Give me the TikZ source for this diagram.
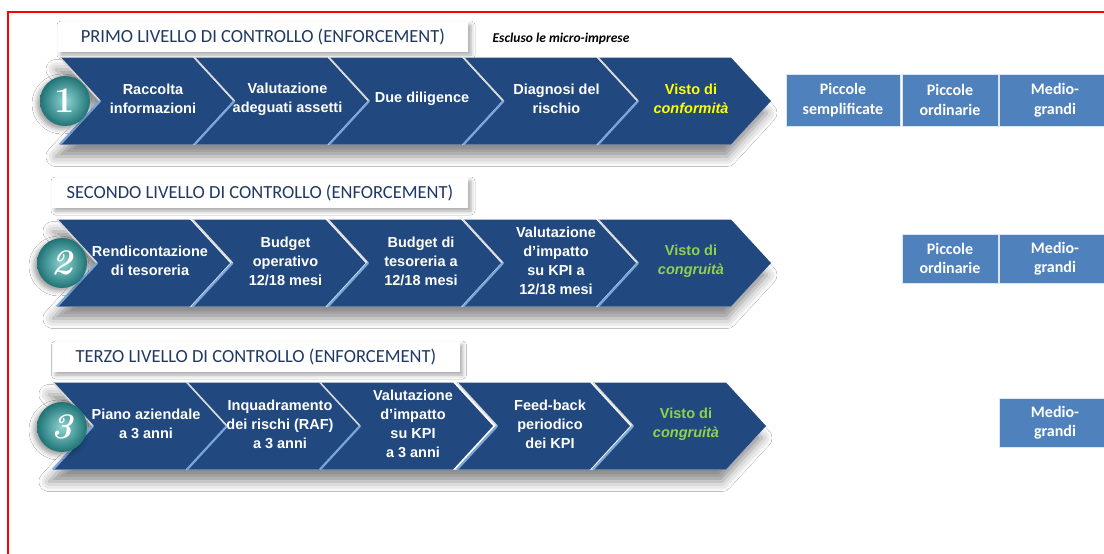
\documentclass[tikz,border=0pt]{standalone}
\usepackage{fontspec}
\usetikzlibrary{shadows.blur}
\newfontfamily\arialf{Liberation Sans}
\newfontfamily\calib{Carlito}
\definecolor{chevblue}{HTML}{21497F}
\definecolor{boxblue}{HTML}{4F81BD}
\definecolor{titlecol}{HTML}{1F3864}
\definecolor{vistoyel}{HTML}{FFFF00}
\definecolor{vistogrn}{HTML}{92D050}
\definecolor{bevelblue}{HTML}{7AA6DA}
\definecolor{tealin}{HTML}{8FD6D3}
\definecolor{tealout}{HTML}{1F7376}
\tikzset{
  chevfill/.style={fill=chevblue},
  chevedge/.style={draw=gray!30, line width=1.6},
  chevbevel/.style={draw=bevelblue, line width=2.2},
  chevtext/.style={text=white, align=center, inner sep=0, font=\arialf\bfseries\fontsize{14.5}{19}\selectfont},
  rowshadow/.style={fill=white, blur shadow={shadow xshift=-4pt, shadow yshift=-12pt, shadow blur radius=10pt, shadow opacity=45}},
  titlebox/.style={fill=white, minimum height=30, inner sep=0, text=titlecol, font=\calib\fontsize{18.5}{20}\selectfont,
    blur shadow={shadow xshift=3pt, shadow yshift=-3pt, shadow blur radius=4pt, shadow opacity=35}},
  sizebox/.style={fill=boxblue, draw=white!80!boxblue, line width=0.8, text=white, align=center, inner sep=0,
    font=\calib\bfseries\fontsize{16}{19.5}\selectfont},
  numcircle/.style={circle, minimum size=50, inner sep=0, shading=radial, inner color=tealin, outer color=tealout,
    text=white, font=\fontsize{36}{36}\selectfont\bfseries,
    blur shadow={shadow xshift=-3pt, shadow yshift=-3pt, shadow blur radius=5pt, shadow opacity=40}},
  notetext/.style={inner sep=0, font=\calib\bfseries\itshape\fontsize{13.5}{15}\selectfont}
}
% #1 name, #2 left x, #3 middle y, #4 text
\newcommand{\chev}[4]{%
  \fill[chevfill] (#2,#3-43.5) -- (#2+133,#3-43.5) -- (#2+173,#3) -- (#2+133,#3+43.5) -- (#2,#3+43.5) -- (#2+40,#3) -- cycle;
  \draw[chevedge] (#2,#3-43.5) -- (#2+40,#3);
  \draw[chevbevel] (#2+40,#3) -- (#2,#3+43.5);
  \node[chevtext] (#1) at (#2+93,#3-2) {#4};
}
\newcommand{\rowshade}[3]{%
  \fill[rowshadow] (#1,#3-43.5) -- (#2+133,#3-43.5) -- (#2+173,#3) -- (#2+133,#3+43.5) -- (#1,#3+43.5) -- (#1+40,#3) -- cycle;
}

\begin{document}
\begin{tikzpicture}[x=1pt,y=-1pt]
\fill[white] (0,0) rectangle (1104,554);
\useasboundingbox (0,0) rectangle (1104,554);
\draw[red, line width=1.5] (8,554) -- (8,12) -- (1104,12);

% primo livello
\node[titlebox, minimum width=410] (t1) at (263,37) {PRIMO LIVELLO DI CONTROLLO (ENFORCEMENT)};
\node[notetext] (esc) at (561,39) {Escluso le micro-imprese};
\rowshade{60}{598}{101}
\chev{p1}{60}{101}{Raccolta\\informazioni}
\chev{p2}{194.5}{101}{Valutazione\\adeguati assetti}
\chev{p3}{329}{101}{Due diligence}
\chev{p4}{463.5}{101}{Diagnosi del\\rischio}
\chev{p5}{598}{101}{\textcolor{vistoyel}{Visto di}\\\textcolor{vistoyel}{\itshape conformità}}
\node[numcircle] (c1) at (65,101) {1};
\node[sizebox, minimum width=114, minimum height=52] (b1) at (843,100) {Piccole\\semplificate};
\node[sizebox, minimum width=96, minimum height=52] (b2) at (950,100) {Piccole\\ordinarie};
\node[sizebox, minimum width=112, minimum height=52] (b3) at (1055,100) {Medio-\\grandi};

% secondo livello
\node[titlebox, minimum width=416] (t2) at (260,193) {SECONDO LIVELLO DI CONTROLLO (ENFORCEMENT)};
\rowshade{57}{598}{263}
\chev{s1}{57}{263}{Rendicontazione\\di tesoreria}
\chev{s2}{192.5}{263}{Budget\\operativo\\12/18 mesi}
\chev{s3}{328}{263}{Budget di\\tesoreria a\\12/18 mesi}
\chev{s4}{463}{263}{Valutazione\\d’impatto\\su KPI a\\12/18 mesi}
\chev{s5}{598}{263}{\textcolor{vistogrn}{Visto di}\\\textcolor{vistogrn}{\itshape congruità}}
\node[numcircle] (c2) at (62,263) {\itshape 2};
\node[sizebox, minimum width=96, minimum height=49] (b4) at (950,258.5) {Piccole\\ordinarie};
\node[sizebox, minimum width=112, minimum height=49] (b5) at (1055,258.5) {Medio-\\grandi};

% terzo livello
\node[titlebox, minimum width=407] (t3) at (256,357) {TERZO LIVELLO DI CONTROLLO (ENFORCEMENT)};
\rowshade{53}{593}{426}
\chev{r1}{53}{426}{Piano aziendale\\a 3 anni}
\chev{r2}{187}{426}{Inquadramento\\dei rischi (RAF)\\a 3 anni}
\chev{r3}{320}{426}{Valutazione\\d’impatto\\su KPI\\a 3 anni}
\chev{r4}{457}{426}{Feed-back\\periodico\\dei KPI}
\chev{r5}{593}{426}{\textcolor{vistogrn}{Visto di}\\\textcolor{vistogrn}{\itshape congruità}}
\node[numcircle] (c3) at (62,427) {\itshape 3};
\node[sizebox, minimum width=112, minimum height=49] (b6) at (1055,422.5) {Medio-\\grandi};
\end{tikzpicture}
\end{document}
